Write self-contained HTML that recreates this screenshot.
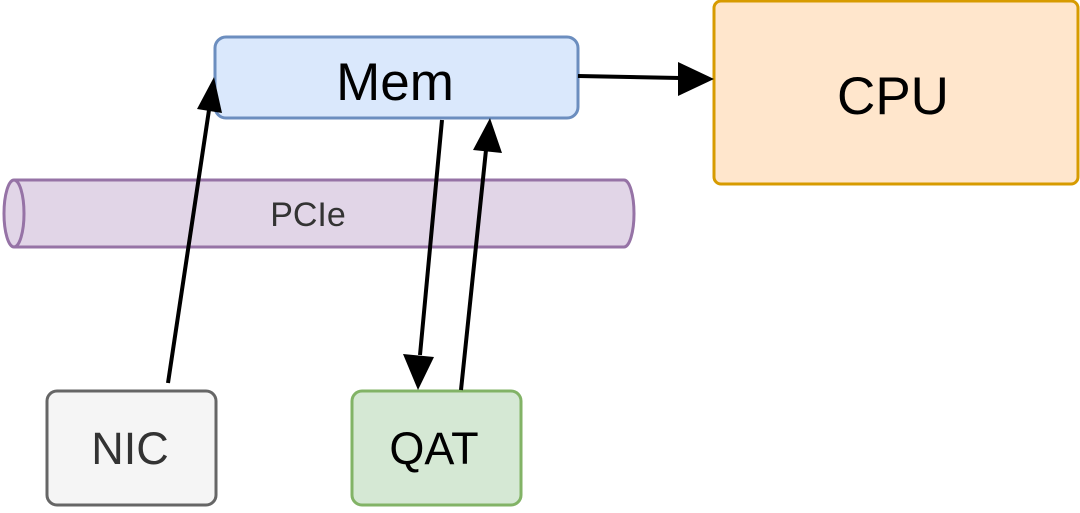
<!DOCTYPE html>
<html><head><meta charset="utf-8"><style>
html,body{margin:0;padding:0;background:#fff;width:1080px;height:513px;overflow:hidden}
text{font-family:"Liberation Sans",sans-serif}
</style></head><body>
<svg width="1080" height="513" viewBox="0 0 1080 513" xmlns="http://www.w3.org/2000/svg">
<!-- PCIe cylinder -->
<path d="M14,180 L624,180 A10,33.5 0 0 1 624,247 L14,247 A10,33.5 0 0 1 14,180 Z" fill="#e1d5e7" stroke="#9673a6" stroke-width="3"/>
<path d="M14,180 A10,33.5 0 0 1 14,247" fill="none" stroke="#9673a6" stroke-width="3"/>
<text x="308" y="226" font-size="34" fill="#333" text-anchor="middle">PCIe</text>
<!-- Mem -->
<rect x="215" y="37" width="363" height="81" rx="11" fill="#dae8fc" stroke="#6c8ebf" stroke-width="3"/>
<text x="395" y="100" font-size="53" fill="#000" text-anchor="middle">Mem</text>
<!-- CPU -->
<rect x="714" y="1" width="364" height="183" rx="7" fill="#ffe6cc" stroke="#d79b00" stroke-width="3"/>
<text x="893" y="114" font-size="53" fill="#000" text-anchor="middle">CPU</text>
<!-- NIC -->
<rect x="47" y="391" width="169" height="114" rx="10" fill="#f5f5f5" stroke="#666" stroke-width="3"/>
<text x="130" y="464" font-size="45" fill="#333" text-anchor="middle">NIC</text>
<!-- QAT -->
<rect x="352" y="391" width="169" height="114" rx="10" fill="#d5e8d4" stroke="#82b366" stroke-width="3"/>
<text x="434" y="464" font-size="45" fill="#000" text-anchor="middle">QAT</text>
<!-- arrows -->
<g stroke="#000" stroke-width="4" fill="#000">
<line x1="578" y1="76" x2="680" y2="78"/>
<polygon points="714,79 678,62 678,96" stroke="none"/>
<line x1="168" y1="383" x2="209" y2="110"/>
<polygon points="214,77 197,109 222,113" stroke="none"/>
<line x1="442" y1="120" x2="420" y2="355"/>
<polygon points="418,390 403,354 434,357" stroke="none"/>
<line x1="461" y1="390" x2="486" y2="150"/>
<polygon points="490,118 473,150 502,153" stroke="none"/>
</g>
</svg>
</body></html>
